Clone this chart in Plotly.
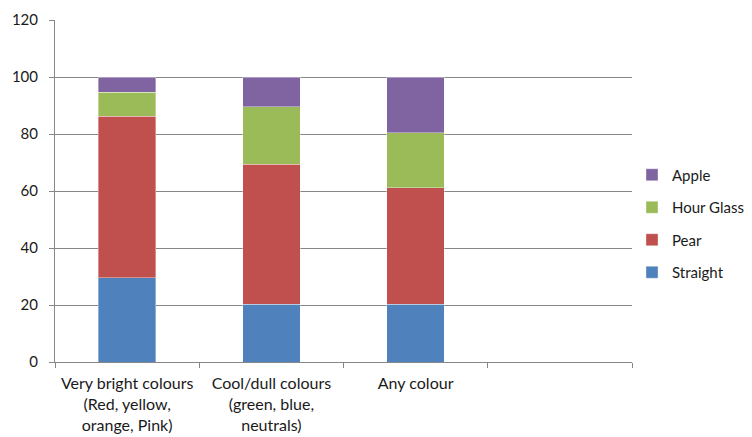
import plotly.graph_objects as go

categories = ["Very bright colours<br>(Red, yellow,<br>orange, Pink)",
              "Cool/dull colours<br>(green, blue,<br>neutrals)",
              "Any colour"]
all_slots = categories + [" "]

straight = [29.6, 20.2, 20.2]
pear = [56.7, 49.2, 40.9]
hour_glass = [8.4, 20.2, 19.4]
apple = [5.3, 10.4, 19.5]

series = [("Straight", straight, "#4F81BD", 4),
          ("Pear", pear, "#C0504D", 3),
          ("Hour Glass", hour_glass, "#9BBB59", 2),
          ("Apple", apple, "#8064A2", 1)]

fig = go.Figure()
for name, vals, col, rank in series:
    fig.add_trace(go.Bar(x=categories, y=vals, name=name, legendrank=rank, legendgroup=name,
                         marker=dict(color=col, line=dict(color="rgba(255,255,255,0.6)", width=0.6))))

grey = "#878787"
# page body has an 8px margin, so the figure is shrunk by 8px on each axis
fig.update_layout(
    barmode="stack", bargap=0.6,
    width=744, height=429,
    margin=dict(l=47, r=120, t=12, b=75, autoexpand=False),
    plot_bgcolor="white", paper_bgcolor="white",
    font=dict(family="Lato", size=14, color="#1a1a1a"),
    legend=dict(x=1.0, xanchor="left", y=0.405, yanchor="middle",
                traceorder="grouped", itemwidth=30, tracegroupgap=10,
                font=dict(size=15)),
    xaxis=dict(type="category", categoryorder="array", categoryarray=all_slots,
               range=[-0.5, 3.5], tickson="boundaries", ticks="outside", ticklen=5,
               tickcolor=grey, showline=True, linecolor=grey, linewidth=1,
               showgrid=False, automargin=False, ticklabelstandoff=7, tickangle=0,
               tickfont=dict(size=16)),
    yaxis=dict(range=[0, 120], dtick=20, ticks="outside", ticklen=5, tickcolor=grey,
               showline=True, linecolor=grey, linewidth=1,
               showgrid=True, gridcolor=grey, gridwidth=1, zeroline=False,
               automargin=False, ticklabelstandoff=8, tickfont=dict(size=15)),
)

fig.write_html("out.html")
